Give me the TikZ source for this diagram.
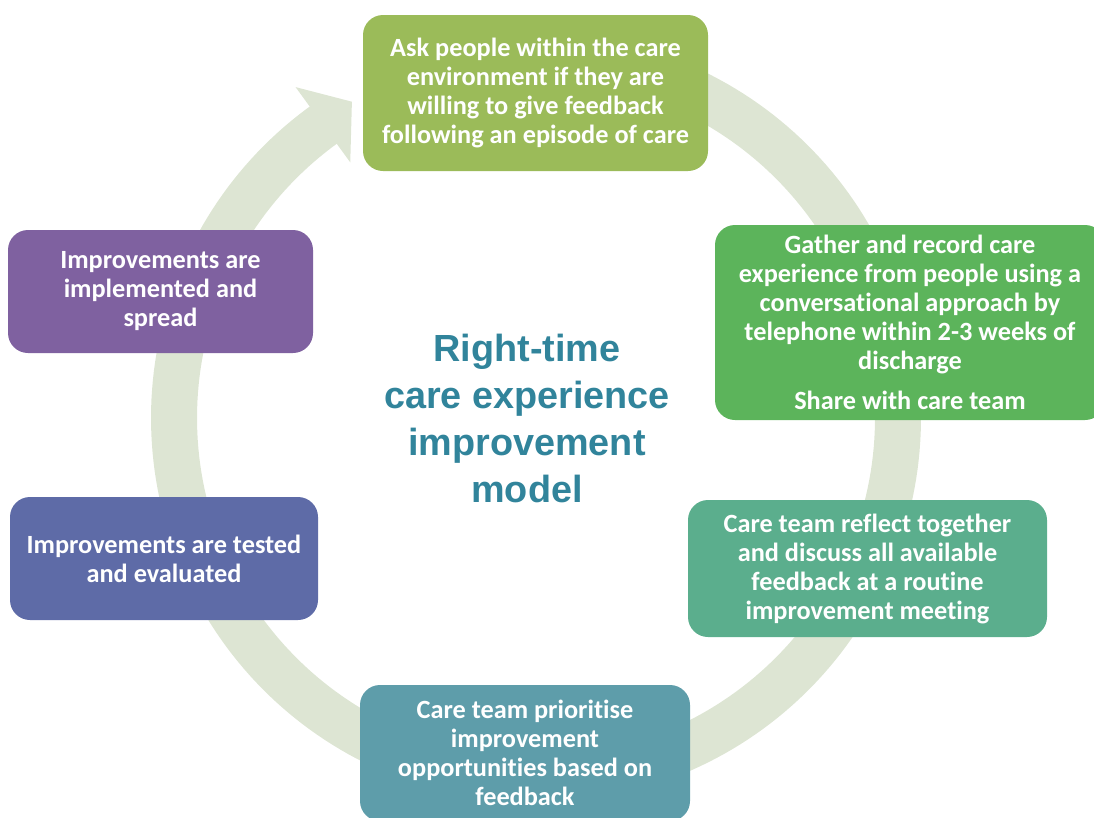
\documentclass[tikz,border=0pt]{standalone}
\usepackage{fontspec}
\setmainfont{Carlito}[Ligatures=NoCommon]
\newfontfamily\titlefont{Liberation Sans}
\definecolor{askc}{HTML}{9BBB59}
\definecolor{gatherc}{HTML}{5CB45B}
\definecolor{reflectc}{HTML}{5BAE8D}
\definecolor{prioritc}{HTML}{5E9DAA}
\definecolor{testc}{HTML}{5E6BA7}
\definecolor{implc}{HTML}{7F61A0}
\definecolor{ringc}{HTML}{DDE5D3}
\definecolor{titlec}{HTML}{31849B}
\begin{document}
\begin{tikzpicture}[x=1pt,y=-1pt,
  stagebox/.style={rounded corners=20pt, inner sep=0pt, text=white, align=center,
    font=\bfseries\fontsize{26.3}{29}\selectfont},
  ringline/.style={draw=ringc, line width=46pt},
]
\useasboundingbox (0,0) rectangle (1094,817);
\clip (0,0) rectangle (1094,817);
% cycle ring with arrowhead
\begin{scope}[shift={(536,418)}]
  \draw[ringline] plot[domain=-90:234.5, samples=240] ({362*cos(\x)},{362*sin(\x)});
  \fill[ringc] (234:316) -- (239.8:366) -- (234:409) -- cycle;
\end{scope}
% stages
\node[stagebox, fill=askc, minimum width=345pt, minimum height=156pt] (ask) at (535.5,93)
  {Ask people within the care\\environment if they are\\willing to give feedback\\following an episode of care};
\node[stagebox, fill=gatherc, minimum width=390pt, minimum height=195pt] (gather) at (910,322.5)
  {Gather and record care\\experience from people using a\\conversational approach by\\telephone within 2-3 weeks of\\discharge\\[11pt]Share with care team};
\node[stagebox, fill=reflectc, minimum width=359pt, minimum height=137pt] (reflect) at (867.5,568.5)
  {Care team reflect together\\and discuss all available\\feedback at a routine\\improvement meeting};
\node[stagebox, fill=prioritc, minimum width=330pt, minimum height=136pt] (priorit) at (525,753)
  {Care team prioritise\\improvement\\opportunities based on\\feedback};
\node[stagebox, fill=testc, minimum width=308pt, minimum height=123pt] (test) at (164,558.5)
  {Improvements are tested\\and evaluated};
\node[stagebox, fill=implc, minimum width=305pt, minimum height=123pt] (impl) at (160.5,291.5)
  {Improvements are\\implemented and\\spread};
% title
\node[text=titlec, align=center, inner sep=0pt, font=\titlefont\bfseries\fontsize{37.8}{47}\selectfont] (title) at (527,418)
  {Right-time\\care experience\\improvement\\model};
\end{tikzpicture}
\end{document}
